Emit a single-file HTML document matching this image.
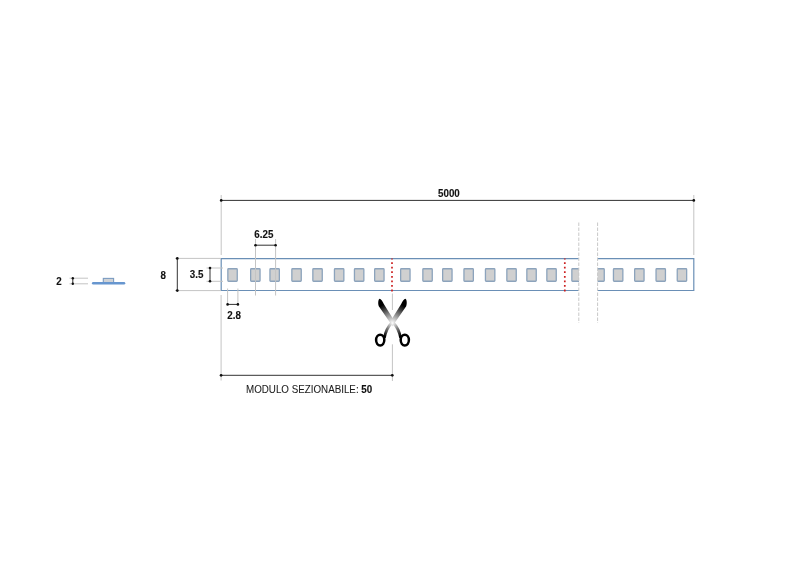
<!DOCTYPE html>
<html><head><meta charset="utf-8"><style>
html,body{margin:0;padding:0;background:#fff;}
svg{display:block;will-change:transform;}
text{font-family:"Liberation Sans",sans-serif;fill:#111;}
.b{stroke:#111;stroke-width:0.12;}
.b{font-weight:bold;}
.ext{stroke:#c4c4c4;stroke-width:1;fill:none;}
.dim{stroke:#333;stroke-width:1;fill:none;}
.dot{fill:#111;}
.led{fill:#d0d0d0;stroke:#8ca3bc;stroke-width:1.3;}
.strip{fill:none;stroke:#6a8fb6;stroke-width:1.2;}
</style></head><body>
<svg width="800" height="566" viewBox="0 0 800 566">
<!-- 5000 dimension -->
<line class="ext" x1="221.2" y1="195" x2="221.2" y2="255"/>
<line class="ext" x1="693.8" y1="195" x2="693.8" y2="255"/>
<line class="dim" x1="221.2" y1="200.4" x2="693.8" y2="200.4"/>
<circle class="dot" cx="221.2" cy="200.4" r="1.35"/>
<circle class="dot" cx="693.8" cy="200.4" r="1.35"/>
<text class="b"  font-size="9.8" transform="translate(438 196.9) scale(1 1.03)">5000</text>

<!-- strip -->
<g>
<rect x="221.2" y="258.6" width="357.6" height="31.9" fill="#fff"/>
<rect x="597.6" y="258.6" width="96.2" height="31.9" fill="#fff"/>
<rect x="227.85" y="268.75" width="9.40" height="12.50" rx="0.7" class="led"/>
<rect x="250.65" y="268.75" width="9.40" height="12.50" rx="0.7" class="led"/>
<rect x="269.95" y="268.75" width="9.40" height="12.50" rx="0.7" class="led"/>
<rect x="291.85" y="268.75" width="9.40" height="12.50" rx="0.7" class="led"/>
<rect x="312.85" y="268.75" width="9.40" height="12.50" rx="0.7" class="led"/>
<rect x="334.45" y="268.75" width="9.40" height="12.50" rx="0.7" class="led"/>
<rect x="354.45" y="268.75" width="9.40" height="12.50" rx="0.7" class="led"/>
<rect x="374.65" y="268.75" width="9.40" height="12.50" rx="0.7" class="led"/>
<rect x="400.65" y="268.75" width="9.40" height="12.50" rx="0.7" class="led"/>
<rect x="422.85" y="268.75" width="9.40" height="12.50" rx="0.7" class="led"/>
<rect x="442.65" y="268.75" width="9.40" height="12.50" rx="0.7" class="led"/>
<rect x="463.95" y="268.75" width="9.40" height="12.50" rx="0.7" class="led"/>
<rect x="485.45" y="268.75" width="9.40" height="12.50" rx="0.7" class="led"/>
<rect x="506.85" y="268.75" width="9.40" height="12.50" rx="0.7" class="led"/>
<rect x="526.85" y="268.75" width="9.40" height="12.50" rx="0.7" class="led"/>
<rect x="546.85" y="268.75" width="9.40" height="12.50" rx="0.7" class="led"/>
<rect x="613.45" y="268.75" width="9.40" height="12.50" rx="0.7" class="led"/>
<rect x="634.65" y="268.75" width="9.40" height="12.50" rx="0.7" class="led"/>
<rect x="656.05" y="268.75" width="9.40" height="12.50" rx="0.7" class="led"/>
<rect x="677.25" y="268.75" width="9.40" height="12.50" rx="0.7" class="led"/>

<rect x="571.85" y="268.75" width="32.40" height="12.50" rx="0.7" class="led"/>

<rect x="579" y="255" width="18.6" height="40" fill="#fff"/>
<path class="strip" d="M578.8 258.6 H221.2 V290.5 H578.8"/>
<path class="strip" d="M597.6 258.6 H693.8 V290.5 H597.6"/>
<line x1="392.0" y1="258.5" x2="392.0" y2="291.5" stroke="#cc1f1f" stroke-width="1.7" stroke-dasharray="1.8 2.77" stroke-dashoffset="0.9"/>
<line x1="564.8" y1="258.5" x2="564.8" y2="291.5" stroke="#cc1f1f" stroke-width="1.7" stroke-dasharray="1.8 2.77" stroke-dashoffset="0.9"/>

</g>
<line x1="578.8" y1="222.5" x2="578.8" y2="323" stroke="#c8c8c8" stroke-width="1" stroke-dasharray="3.5 1.5"/>
<line x1="597.6" y1="222.5" x2="597.6" y2="323" stroke="#c8c8c8" stroke-width="1" stroke-dasharray="3.5 1.5"/>

<!-- 8 dimension -->
<line class="ext" x1="175" y1="258.4" x2="221" y2="258.4"/>
<line class="ext" x1="175" y1="290.6" x2="221" y2="290.6"/>
<line class="dim" x1="177.3" y1="258.4" x2="177.3" y2="290.6"/>
<circle class="dot" cx="177.3" cy="258.4" r="1.35"/>
<circle class="dot" cx="177.3" cy="290.6" r="1.35"/>
<text class="b"  font-size="9.8" transform="translate(160.4 278.8) scale(1 1.03)">8</text>

<!-- 3.5 dimension -->
<line class="ext" x1="206.5" y1="268" x2="223" y2="268"/>
<line class="ext" x1="206.5" y1="281.3" x2="223" y2="281.3"/>
<line class="dim" x1="210" y1="268" x2="210" y2="281.3"/>
<circle class="dot" cx="210" cy="268" r="1.3"/>
<circle class="dot" cx="210" cy="281.3" r="1.3"/>
<text class="b"  font-size="9.8" transform="translate(189.8 278.3) scale(1 1.03)">3.5</text>

<!-- 6.25 dimension -->
<line class="ext" x1="255.5" y1="239" x2="255.5" y2="295.5" stroke="#555"/>
<line class="ext" x1="275.6" y1="239" x2="275.6" y2="295.5" stroke="#555"/>
<line class="dim" x1="255.5" y1="245.2" x2="275.6" y2="245.2"/>
<circle class="dot" cx="255.5" cy="245.2" r="1.3"/>
<circle class="dot" cx="275.6" cy="245.2" r="1.3"/>
<text class="b"  font-size="9.8" transform="translate(254.3 237.8) scale(1 1.03)">6.25</text>

<!-- 2.8 dimension -->
<line class="ext" x1="227.6" y1="288.5" x2="227.6" y2="304.5"/>
<line class="ext" x1="237.9" y1="288.5" x2="237.9" y2="304.5"/>
<line class="dim" x1="227.6" y1="304.4" x2="237.9" y2="304.4"/>
<circle class="dot" cx="227.6" cy="304.4" r="1.3"/>
<circle class="dot" cx="237.9" cy="304.4" r="1.3"/>
<text class="b"  font-size="9.8" transform="translate(227.3 319.2) scale(1 1.03)">2.8</text>

<!-- modulo dimension -->
<line class="ext" x1="221.1" y1="295" x2="221.1" y2="380.5"/>
<line class="ext" x1="392.4" y1="293.5" x2="392.4" y2="310" stroke="#999"/>
<line class="ext" x1="392.4" y1="344.3" x2="392.4" y2="381" stroke="#999"/>
<line class="dim" x1="221.1" y1="375.3" x2="392.3" y2="375.3"/>
<circle class="dot" cx="221.1" cy="375.3" r="1.35"/>
<circle class="dot" cx="392.3" cy="375.3" r="1.35"/>
<text  font-size="9.8" style="fill:#1a1a1a;stroke:#1a1a1a;stroke-width:0.06" transform="translate(246 392.9) scale(1 1.03)">MODULO SEZIONABILE: <tspan class="b" style="fill:#111">50</tspan></text>

<!-- scissors -->
<defs>
<radialGradient id="sg" cx="392.3" cy="323.2" r="26" gradientUnits="userSpaceOnUse">
<stop offset="0" stop-color="#fff"/><stop offset="0.3" stop-color="#a0a0a0"/><stop offset="0.8" stop-color="#000"/><stop offset="1" stop-color="#000"/>
</radialGradient>
<radialGradient id="sg2" cx="392.5" cy="323" r="22" gradientUnits="userSpaceOnUse">
<stop offset="0" stop-color="#fff"/><stop offset="0.3" stop-color="#888"/><stop offset="0.7" stop-color="#000"/><stop offset="1" stop-color="#000"/>
</radialGradient>
</defs>
<g fill="url(#sg)" stroke="none">
<path d="M379.5 298.8 C381 298.9 382.8 301.8 383.8 304 L395.2 322.2 L392.6 326.2 L378.8 306.3 C377.9 304.1 378 299.8 379.5 298.8 Z"/>
<path d="M405.5 298.8 C404 298.9 402.2 301.8 401.2 304 L389.8 322.2 L392.4 326.2 L406.2 306.3 C407.1 304.1 407 299.8 405.5 298.8 Z"/>
<path d="M393.2 322.8 Q398.8 328.5 400.6 337.8" stroke="url(#sg2)" stroke-width="2.8" fill="none"/>
<path d="M391.8 322.8 Q386.2 328.5 384.4 337.8" stroke="url(#sg2)" stroke-width="2.8" fill="none"/>
<ellipse cx="380.2" cy="340.1" rx="4.1" ry="5.4" fill="none" stroke="url(#sg2)" stroke-width="2.5"/>
<ellipse cx="404.8" cy="340.1" rx="4.1" ry="5.4" fill="none" stroke="url(#sg2)" stroke-width="2.5"/>
</g>

<!-- profile -->
<line class="ext" x1="69.5" y1="278.2" x2="88" y2="278.2"/>
<line class="ext" x1="69.5" y1="283.8" x2="88" y2="283.8"/>
<line class="dim" x1="72.8" y1="278.2" x2="72.8" y2="283.8"/>
<circle class="dot" cx="72.8" cy="278.2" r="1.2"/>
<circle class="dot" cx="72.8" cy="283.8" r="1.2"/>
<text class="b"  font-size="9.8" transform="translate(56.3 285) scale(1 1.03)">2</text>
<rect x="103.3" y="278.4" width="10.3" height="4.3" fill="#cfd2d6" stroke="#7b9cc2" stroke-width="1.1"/>
<line x1="93.2" y1="283.3" x2="124" y2="283.3" stroke="#6796cf" stroke-width="2.5" stroke-linecap="round"/>
</svg>
</body></html>
